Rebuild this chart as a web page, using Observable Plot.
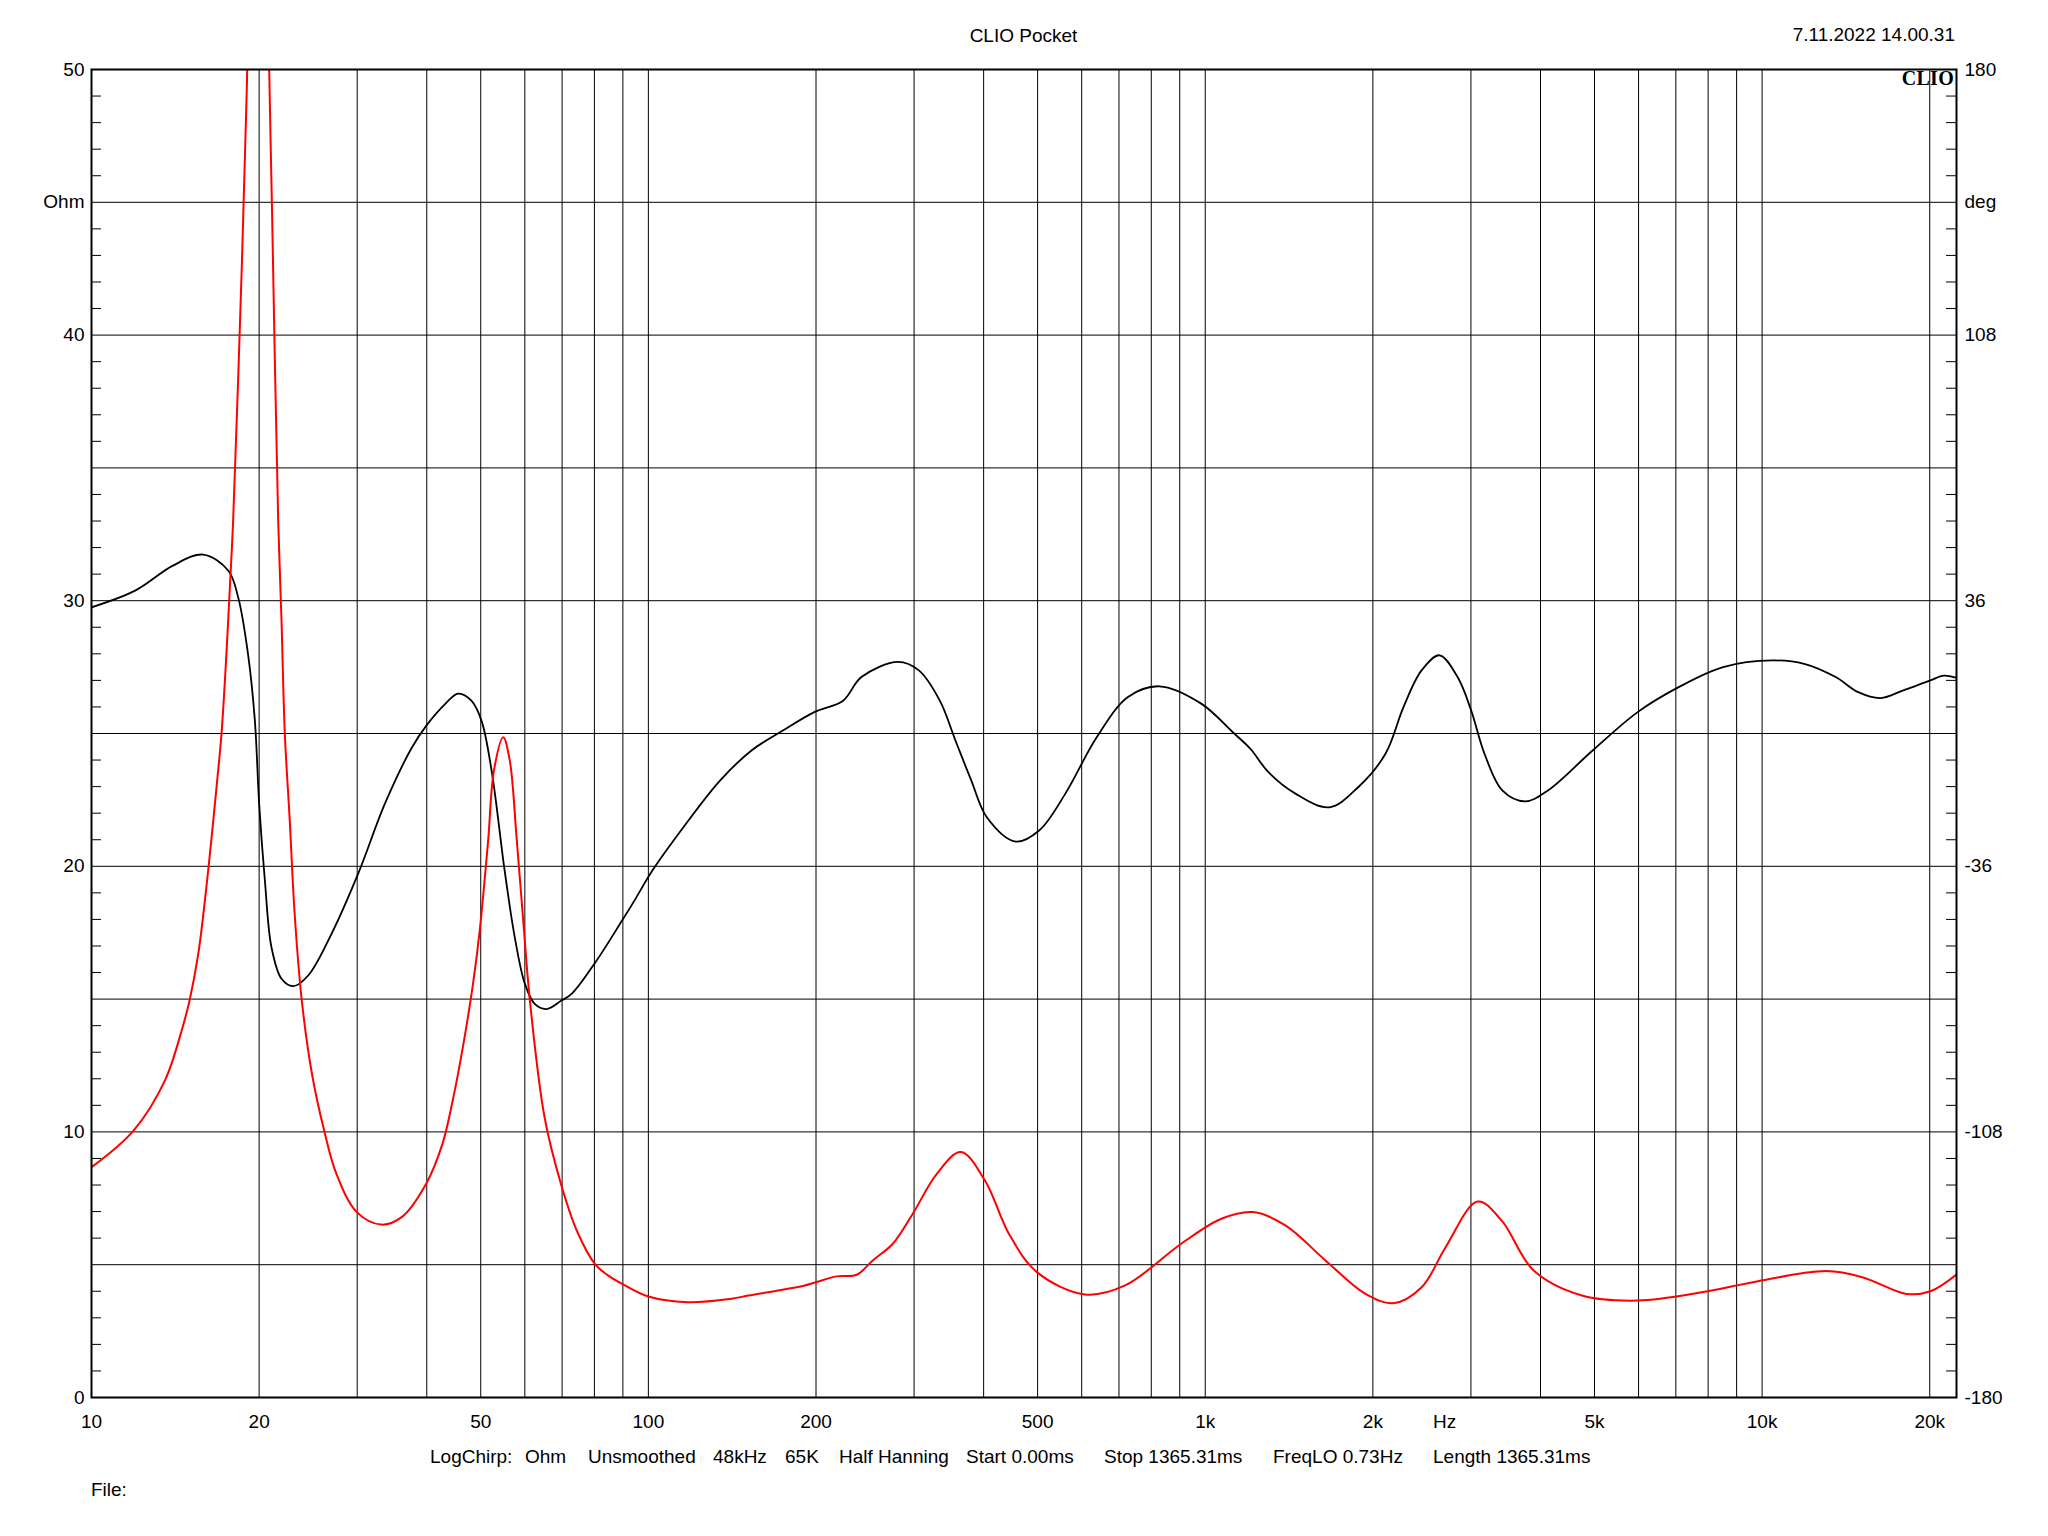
<!DOCTYPE html>
<html>
<head>
<meta charset="utf-8">
<script src="https://cdn.jsdelivr.net/npm/d3@7"></script>
<script src="https://cdn.jsdelivr.net/npm/@observablehq/plot@0.6"></script>
<style>
  html, body { margin: 0; padding: 0; background: #fff; overflow: hidden; }
  #wrap { position: relative; width: 2048px; height: 1536px; font-family: "Liberation Sans", Arial, sans-serif; color: #000; }
  #wrap svg { position: absolute; left: 0; top: 0; }
  .t { position: absolute; font-size: 19px; line-height: 1; white-space: pre; }
  .logo { position: absolute; font-family: "Liberation Serif", "Times New Roman", serif; font-weight: bold; font-size: 20px; line-height: 1; }
</style>
</head>
<body>
<div id="wrap"></div>
<script>
// ---- Data ----
// Impedance magnitude (Ohm), red
const impFreq = [10, 11.9, 13.55, 14.6, 15.0, 15.55, 16.2, 16.77, 17.12, 17.47, 17.72, 17.96, 18.63, 18.95, 19.04, 19.5, 19.95, 20.4, 20.85, 21.1, 21.64, 21.94, 22.24, 22.7, 23.15, 23.85, 24.88, 26.17, 27.53, 29.95, 33.14, 36.06, 39.9, 42.68, 44.53, 46.45, 48.45, 49.8, 51.57, 52.8, 54.87, 56.38, 57.98, 59.6, 61.3, 65.1, 69.65, 74.5, 80.35, 84.6, 89.7, 100, 117.5, 141, 151.4, 190.9, 217.8, 236.7, 252.9, 274.8, 298.4, 329.6, 364, 402.2, 444.2, 498.6, 608.4, 718.1, 905.6, 1069, 1220, 1393, 1644, 1940, 2178, 2447, 2702, 3085, 3407, 3889, 4746, 5984, 7798, 9834, 13036, 15136, 18159, 20060, 22340];
const impOhm = [8.67, 10.05, 11.94, 14.0, 14.95, 16.7, 19.84, 22.98, 25.0, 28.0, 30.5, 33.0, 42.8, 48.3, 50.0, 63, 70, 62, 50, 44.6, 33.0, 29.25, 25.0, 21.72, 18.3, 14.97, 12.19, 10.05, 8.42, 6.98, 6.51, 6.79, 8.05, 9.55, 11.18, 13.2, 15.6, 17.6, 21.0, 23.6, 24.86, 23.98, 21.1, 17.96, 14.9, 10.55, 8.05, 6.25, 5.0, 4.6, 4.28, 3.8, 3.59, 3.72, 3.84, 4.22, 4.56, 4.62, 5.16, 5.79, 6.92, 8.42, 9.24, 8.17, 6.16, 4.72, 3.88, 4.22, 5.79, 6.73, 6.98, 6.48, 5.16, 3.9, 3.55, 4.15, 5.66, 7.38, 6.66, 4.78, 3.84, 3.65, 3.96, 4.38, 4.76, 4.53, 3.9, 4.0, 4.63];

// Phase (deg), black
const phaseFreq = [10, 12, 14, 15.87, 17.6, 18.34, 19.1, 19.65, 20, 20.48, 21.05, 21.94, 23.03, 24.5, 26.98, 30.12, 33.63, 37.55, 39.96, 43.1, 45.55, 48.1, 50.15, 52.3, 55.2, 57.55, 60, 62.5, 65.6, 69.8, 72.8, 80.35, 89.7, 94.4, 101.6, 115.6, 134.6, 153.2, 174.4, 198.6, 223.7, 241.3, 280.7, 306, 333.7, 356, 380, 405.3, 456.6, 503.2, 560.8, 638.4, 726.6, 827.4, 983.5, 1119.6, 1206, 1299, 1452, 1670, 1884, 2107, 2269, 2446, 2635, 2839, 3002, 3173, 3419, 3752, 4119, 4962, 5977, 7068, 8512, 10447, 11901, 13555, 14880, 16330, 17925, 20045, 21200, 22340];
const phaseDeg = [34.2, 38.8, 45.5, 48.5, 44.2, 36.9, 21.6, 3.5, -19.0, -39.8, -58.0, -66.5, -68.5, -65.6, -54.3, -38.0, -19.1, -4.0, 2.2, 7.9, 10.8, 8.9, 3.5, -10.1, -37.2, -55.2, -67.8, -73.3, -74.7, -72.4, -70.6, -62.0, -50.7, -45.3, -37.2, -25.4, -12.7, -4.6, 0.8, 5.8, 8.9, 15.3, 19.4, 17.1, 8.9, -1.9, -12.7, -22.7, -29.3, -26.3, -16.3, -1.0, 9.9, 12.8, 8.1, 0.4, -4.2, -10.5, -16.3, -20.0, -14.5, -5.5, 7.1, 17.1, 21.2, 15.3, 6.3, -5.5, -15.5, -18.4, -15.5, -4.6, 5.8, 12.5, 18.0, 19.8, 18.9, 15.3, 11.2, 9.6, 11.7, 14.4, 15.7, 15.1];

// Axes
const freqDomain = [10, 22340];
const ohmDomain = [0, 50];
const degDomain = [-180, 180];
const gridFreq = [20, 30, 40, 50, 60, 70, 80, 90, 100, 200, 300, 400, 500, 600, 700, 800, 900, 1000, 2000, 3000, 4000, 5000, 6000, 7000, 8000, 9000, 10000, 20000];
const xTickValues = [10, 20, 50, 100, 200, 500, 1000, 2000, 2690, 5000, 10000, 20000];
const xTickLabels = ["10", "20", "50", "100", "200", "500", "1k", "2k", "Hz", "5k", "10k", "20k"];
const ohmGrid = [0, 5, 10, 15, 20, 25, 30, 35, 40, 45, 50];
const yTickValues = [0, 10, 20, 30, 40, 45, 50];
const leftTickLabels = ["0", "10", "20", "30", "40", "Ohm", "50"];
const rightTickLabels = ["-180", "-108", "-36", "36", "108", "deg", "180"];
const minorTicks = d3.range(1, 50).filter(v => v % 5 !== 0);

const titleText = "CLIO Pocket";
const dateText = "7.11.2022 14.00.31";
const logoText = "CLIO";
const captionItems = ["LogChirp:", "Ohm", "Unsmoothed", "48kHz", "65K", "Half Hanning", "Start 0.00ms", "Stop 1365.31ms", "FreqLO 0.73Hz", "Length 1365.31ms"];
const captionLeft = [430, 525, 588, 713, 785, 839, 966, 1104, 1273, 1433];
const fileText = "File:";

// ---- Build ----
const W = 2048, H = 1536;
const mL = 91, mR = 92, mT = 69, mB = 139;
const innerW = W - mL - mR;

const impRows = impFreq.map((f, i) => ({f, v: impOhm[i]}));
// phase mapped onto the shared vertical scale: -180..180 deg <-> 0..50
const degToOhm = d3.scaleLinear().domain(degDomain).range(ohmDomain);
const phaseRows = phaseFreq.map((f, i) => ({f, v: degToOhm(phaseDeg[i])}));

const xLabelMap = new Map(xTickValues.map((v, i) => [v, xTickLabels[i]]));
const leftMap = new Map(yTickValues.map((v, i) => [v, leftTickLabels[i]]));
const rightMap = new Map(yTickValues.map((v, i) => [v, rightTickLabels[i]]));

const chart = Plot.plot({
  width: W,
  height: H,
  marginLeft: mL,
  marginRight: mR,
  marginTop: mT,
  marginBottom: mB,
  style: {fontFamily: "'Liberation Sans', Arial, sans-serif", fontSize: "19px", color: "#000", background: "#fff", overflow: "visible"},
  x: {type: "log", domain: freqDomain, label: null},
  y: {domain: ohmDomain, label: null},
  marks: [
    Plot.ruleX(gridFreq, {stroke: "#000", strokeWidth: 1}),
    Plot.ruleY(ohmGrid, {stroke: "#000", strokeWidth: 1}),
    Plot.tickY(minorTicks, {stroke: "#000", strokeWidth: 1, insetRight: innerW - 10}),
    Plot.tickY(minorTicks, {stroke: "#000", strokeWidth: 1, insetLeft: innerW - 10}),
    Plot.line(phaseRows, {x: "f", y: "v", stroke: "#000", strokeWidth: 1.8, curve: "catmull-rom", clip: true}),
    Plot.line(impRows, {x: "f", y: "v", stroke: "#ff0000", strokeWidth: 2, curve: "catmull-rom", clip: true}),
    Plot.frame({stroke: "#000", strokeWidth: 2}),
    Plot.axisX(xTickValues, {anchor: "bottom", tickSize: 0, tickPadding: 17, tickFormat: d => xLabelMap.get(d), fill: "#000"}),
    Plot.axisY(yTickValues, {anchor: "left", tickSize: 0, tickPadding: 7, tickFormat: d => leftMap.get(d), fill: "#000"}),
    Plot.axisY(yTickValues, {anchor: "right", tickSize: 0, tickPadding: 8, tickFormat: d => rightMap.get(d), fill: "#000"})
  ]
});

const wrap = document.getElementById("wrap");
wrap.appendChild(chart);

function addText(txt, css, cls = "t") {
  const d = document.createElement("div");
  d.className = cls;
  d.textContent = txt;
  Object.assign(d.style, css);
  wrap.appendChild(d);
  return d;
}
// title centered over the frame
addText(titleText, {top: "26px", left: (mL + innerW / 2) + "px", transform: "translateX(-50%)"});
addText(dateText, {top: "25px", right: (W - 1955) + "px"});
addText(logoText, {top: "68px", right: (W - 1954) + "px", letterSpacing: "0.3px"}, "logo");
captionItems.forEach((c, i) => addText(c, {top: "1447px", left: captionLeft[i] + "px"}));
addText(fileText, {top: "1480px", left: mL + "px"});
</script>
</body>
</html>
